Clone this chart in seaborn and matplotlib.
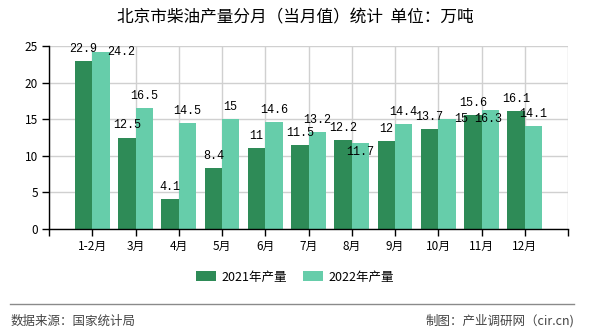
import matplotlib
matplotlib.use("Agg")
import matplotlib.pyplot as plt
from matplotlib.lines import Line2D
import seaborn as sns
import pandas as pd

# ---- data ----
months = ["1-2月", "3月", "4月", "5月", "6月", "7月", "8月", "9月", "10月", "11月", "12月"]
series_names = ["2021年产量", "2022年产量"]
values_2021 = [22.9, 12.5, 4.1, 8.4, 11, 11.5, 12.2, 12, 13.7, 15.6, 16.1]
values_2022 = [24.2, 16.5, 14.5, 15, 14.6, 13.2, 11.7, 14.4, 15, 16.3, 14.1]
y_ticks = [0, 5, 10, 15, 20, 25]

title = "北京市柴油产量分月（当月值）统计  单位：万吨"
source_text = "数据来源：国家统计局"
credit_text = "制图：产业调研网（cir.cn)"

# label offsets in pixels (dx, dy) – mimic reference overlap avoidance
label_off_2021 = [(0, 12)] * 11
label_off_2022 = [(20, 0), (0, 12), (0, 12), (0, 12), (0, 12), (0, 12),
                  (0, -9), (0, 12), (14, 0), (-2, -9), (0, 12)]

colors = ["#2E8B57", "#66CDAA"]

df = pd.DataFrame({
    "month": months * 2,
    "value": values_2021 + values_2022,
    "series": [series_names[0]] * len(months) + [series_names[1]] * len(months),
})

plt.rcParams["font.family"] = ["Noto Sans CJK SC", "DejaVu Sans"]

fig = plt.figure(figsize=(5.9, 3.3), dpi=100)
ax = fig.add_axes([49 / 590, 1 - 229 / 330, (568 - 49) / 590, (229 - 46) / 330])

sns.barplot(data=df, x="month", y="value", hue="series", order=months,
            hue_order=series_names, palette=colors, width=0.8, saturation=1,
            ax=ax, errorbar=None)

ax.set_xlim(-1, len(months))
ax.set_ylim(0, 25)
ax.set_yticks(y_ticks)
ax.set_xticks(range(-1, len(months) + 1))
ax.set_xticklabels([""] + months + [""])
ax.set_xlabel("")
ax.set_ylabel("")

ax.grid(True, color="#d0d0d0", linewidth=1)
ax.set_axisbelow(True)
for s in ["top", "right"]:
    ax.spines[s].set_visible(False)
for s in ["left", "bottom"]:
    ax.spines[s].set_color("black")
    ax.spines[s].set_linewidth(1)
ax.tick_params(axis="both", length=5, width=1, color="black", labelsize=8.5,
               labelcolor="black", pad=3)

# data labels
for cont, vals, offs in zip(ax.containers, [values_2021, values_2022],
                            [label_off_2021, label_off_2022]):
    for bar, v, (dx, dy) in zip(cont, vals, offs):
        x = bar.get_x() + bar.get_width() / 2
        ax.annotate(f"{v:g}", (x, bar.get_height()), xytext=(dx, dy),
                    textcoords="offset pixels", ha="center", va="center",
                    fontsize=8.5, family=["Liberation Mono", "DejaVu Sans"],
                    color="black")

# legend
handles, labels = ax.get_legend_handles_labels()
if ax.get_legend() is not None:
    ax.get_legend().remove()
fig.legend(handles, labels, loc="center", bbox_to_anchor=(0.5, 1 - 277 / 330),
           ncol=2, frameon=False, fontsize=9, handlelength=1.6,
           handleheight=0.8, handletextpad=0.4, columnspacing=1.3)

fig.text(0.5, 1 - 18 / 330, title, ha="center", va="center", fontsize=12,
         color="black")

fig.add_artist(Line2D([10 / 590, 574 / 590], [1 - 303.5 / 330] * 2,
                      color="#8a8a8a", linewidth=1))
fig.text(11 / 590, 1 - 321 / 330, source_text, ha="left", va="center",
         fontsize=9, color="#444444")
fig.text(574 / 590, 1 - 321 / 330, credit_text, ha="right", va="center",
         fontsize=9, color="#444444")

fig.savefig("out.png", dpi=100)
